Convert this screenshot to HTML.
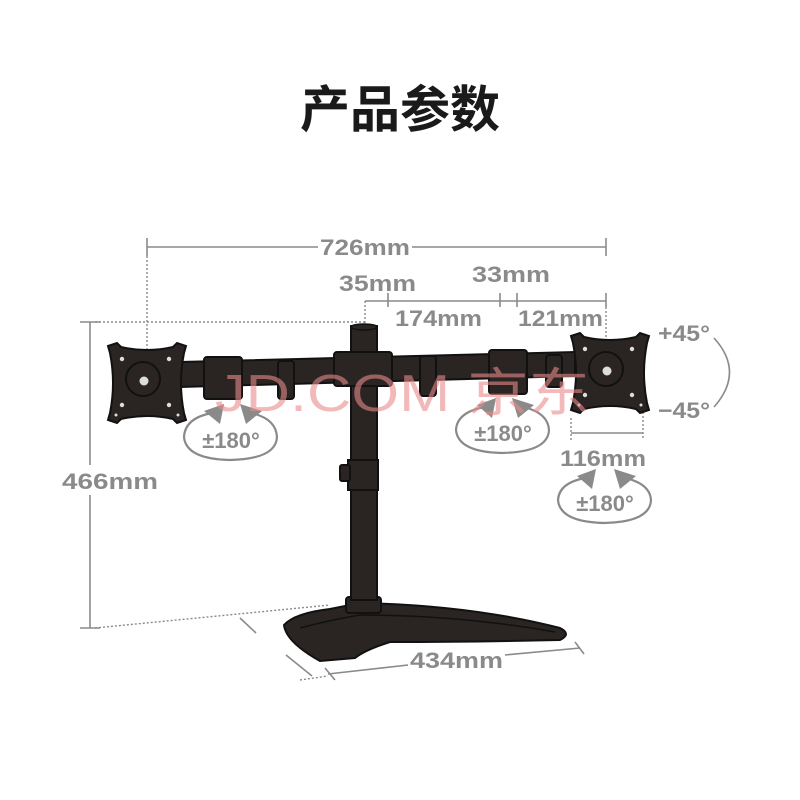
<!DOCTYPE html>
<html><head><meta charset="utf-8"><style>
html,body{margin:0;padding:0;background:#fff;}
svg{display:block;}
text{font-family:"Liberation Sans","Noto Sans CJK SC",sans-serif;}
</style></head><body>
<svg width="800" height="800" viewBox="0 0 800 800" xmlns="http://www.w3.org/2000/svg">
<defs>
<g id="plate">
<path d="M-39,-37 L-30,-40 L-26,-36 Q0,-30 26,-36 L30,-40 L39,-37 L37,-30 Q31,0 37,30 L39,37 L30,40 L26,36 Q0,30 -26,36 L-30,40 L-39,37 L-37,30 Q-31,0 -37,-30 Z" fill="#2a2523" stroke="#111" stroke-width="2"/>
<circle cx="-4" cy="-4" r="17" fill="#2a2523" stroke="#111" stroke-width="2"/>
<circle cx="-3" cy="-2" r="4.5" fill="#ddd"/>
<circle cx="-25" cy="-24" r="2.2" fill="#ddd"/><circle cx="22" cy="-24" r="2.2" fill="#ddd"/>
<circle cx="-25" cy="22" r="2.2" fill="#ddd"/><circle cx="22" cy="22" r="2.2" fill="#ddd"/>
<circle cx="-31" cy="32" r="1.5" fill="#ddd"/><circle cx="31" cy="32" r="1.5" fill="#ddd"/>
</g>
</defs>

<text x="400" y="127" text-anchor="middle" font-size="50" font-weight="bold" fill="#1a1a1a" font-family="Noto Sans CJK SC, sans-serif">产品参数</text>

<g stroke="#8a8a8a" stroke-width="1.6" fill="none">
<line x1="147" y1="247" x2="318" y2="247"/><line x1="412" y1="247" x2="606" y2="247"/>
<line x1="147" y1="238" x2="147" y2="256"/><line x1="606" y1="238" x2="606" y2="256"/>
<line x1="365" y1="301" x2="606" y2="301"/>
<line x1="388" y1="293" x2="388" y2="307"/><line x1="500" y1="293" x2="500" y2="307"/><line x1="517" y1="293" x2="517" y2="307"/><line x1="606" y1="293" x2="606" y2="307"/>
<line x1="90" y1="322" x2="90" y2="465"/><line x1="90" y1="495" x2="90" y2="628"/>
<line x1="80" y1="322" x2="100" y2="322"/><line x1="80" y1="628" x2="100" y2="628"/>
<line x1="571" y1="433" x2="643" y2="433"/>
<line x1="240" y1="618" x2="256" y2="633"/>
<line x1="286" y1="655" x2="312" y2="676"/>
<line x1="328" y1="674" x2="408" y2="665"/><line x1="505" y1="655" x2="580" y2="648"/>
<line x1="325" y1="668" x2="335" y2="680"/><line x1="575" y1="642" x2="584" y2="654"/>
<path d="M714,338 Q745,372 714,407"/>
</g>
<g stroke="#8a8a8a" stroke-width="1.4" fill="none" stroke-dasharray="2,2">
<line x1="147" y1="256" x2="147" y2="350"/>
<line x1="606" y1="307" x2="606" y2="338"/>
<line x1="365" y1="301" x2="365" y2="325"/>
<line x1="95" y1="322" x2="365" y2="322"/>
<line x1="571" y1="418" x2="571" y2="440"/><line x1="643" y1="412" x2="643" y2="440"/>
<line x1="95" y1="628" x2="330" y2="605"/>
<line x1="300" y1="680" x2="328" y2="676"/>
</g>

<g fill="#8a8a8a" font-size="22" font-weight="bold">
<text x="320" y="255" textLength="90" lengthAdjust="spacingAndGlyphs">726mm</text>
<text x="339" y="291" textLength="77" lengthAdjust="spacingAndGlyphs">35mm</text>
<text x="472" y="282" textLength="78" lengthAdjust="spacingAndGlyphs">33mm</text>
<text x="395" y="326" textLength="87" lengthAdjust="spacingAndGlyphs">174mm</text>
<text x="518" y="326" textLength="85" lengthAdjust="spacingAndGlyphs">121mm</text>
<text x="62" y="489" textLength="96" lengthAdjust="spacingAndGlyphs">466mm</text>
<text x="560" y="466" textLength="86" lengthAdjust="spacingAndGlyphs">116mm</text>
<text x="410" y="668" textLength="93" lengthAdjust="spacingAndGlyphs">434mm</text>
<text x="658" y="341" textLength="52" lengthAdjust="spacingAndGlyphs">+45°</text>
<text x="658" y="418" textLength="52" lengthAdjust="spacingAndGlyphs">−45°</text>
</g>

<!-- base -->
<path d="M284,625 Q295,613 330,609 L360,603 Q470,605 560,628 Q572,634 560,640 Q470,642 390,642 Q365,650 355,658 L320,661 Q286,642 284,625 Z" fill="#2a2523" stroke="#111" stroke-width="2"/>
<path d="M300,628 Q330,620 360,615 Q460,615 555,632" stroke="#111" stroke-width="1.5" fill="none"/>
<rect x="346" y="597" width="35" height="16" rx="3" fill="#2a2523" stroke="#111" stroke-width="2"/>
<!-- pole -->
<rect x="351" y="326" width="26" height="274" fill="#2a2523" stroke="#111" stroke-width="2"/>
<ellipse cx="364" cy="327" rx="13" ry="3" fill="#2a2523" stroke="#111" stroke-width="1.5"/>
<rect x="348" y="460" width="30" height="30" fill="#2a2523" stroke="#111" stroke-width="2"/>
<rect x="340" y="465" width="10" height="16" rx="2" fill="#2a2523" stroke="#111" stroke-width="2"/>
<!-- arm -->
<path d="M180,362 L575,352 L575,376 L180,387 Z" fill="#2a2523" stroke="#111" stroke-width="2"/>
<g fill="#2a2523" stroke="#111" stroke-width="2">
<rect x="204" y="357" width="38" height="42" rx="3"/>
<rect x="278" y="361" width="16" height="38" rx="3"/>
<rect x="334" y="352" width="58" height="34" rx="3"/>
<rect x="420" y="356" width="16" height="40" rx="3"/>
<rect x="489" y="350" width="38" height="44" rx="3"/>
<rect x="546" y="355" width="16" height="32" rx="3"/>
</g>
<use href="#plate" x="147" y="383"/>
<use href="#plate" x="610" y="373"/>

<!-- rotation ellipses -->
<g stroke="#8a8a8a" stroke-width="2.2" fill="none">
<path d="M212,413 Q185,418 184,437 Q186,459 230,460 Q276,459 277,437 Q276,420 255,414"/>
<path d="M485,407 Q457,412 456,430 Q458,452 502,453 Q548,452 549,430 Q548,414 527,408"/>
<path d="M585,478 Q559,483 558,500 Q560,522 604,523 Q650,522 651,500 Q650,485 629,479"/>
</g>
<g fill="#8a8a8a">
<path d="M204,411 L224,404 L220,424 Z"/><path d="M262,411 L240,404 L246,424 Z"/>
<path d="M477,405 L496,398 L492,418 Z"/><path d="M534,405 L512,398 L518,418 Z"/>
<path d="M577,476 L596,469 L592,489 Z"/><path d="M636,476 L614,469 L620,489 Z"/>
</g>
<g fill="#8a8a8a" font-size="22" font-weight="bold">
<text x="231" y="448" text-anchor="middle">±180°</text>
<text x="503" y="441" text-anchor="middle">±180°</text>
<text x="605" y="511" text-anchor="middle">±180°</text>
</g>

<text x="215" y="411" font-size="52" fill="#e88a8a" fill-opacity="0.6" textLength="375" lengthAdjust="spacingAndGlyphs" font-family="Liberation Sans, Noto Sans CJK SC, sans-serif">JD.COM 京东</text>
</svg>
</body></html>
